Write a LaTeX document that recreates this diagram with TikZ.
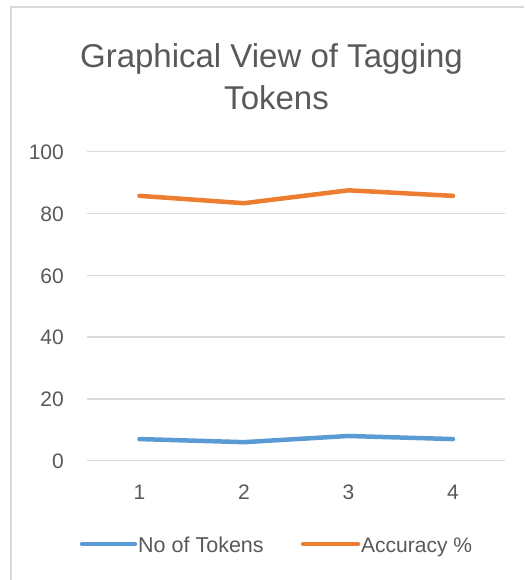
\documentclass[tikz,border=0pt]{standalone}
\usepackage{fontspec}
\setmainfont{Liberation Sans}
\usetikzlibrary{positioning}
\definecolor{tokblue}{HTML}{5B9BD5}
\definecolor{accorange}{HTML}{ED7D31}
\definecolor{gridgray}{HTML}{D9D9D9}
\definecolor{textgray}{HTML}{595959}
\tikzset{font=\fontsize{21}{25}\selectfont}
\tikzset{every node/.append style={text=textgray, inner sep=0pt}}
\tikzset{serie/.style={line width=4.5pt, line cap=round, line join=round}}
\tikzset{gridline/.style={gridgray, line width=1.5pt}}
\tikzset{legtext/.style={anchor=base west, font=\fontsize{21.5}{26}\selectfont}}

\begin{document}
\begin{tikzpicture}[x=1pt, y=-1pt]
\pgfmathsetmacro{\YZERO}{460.7}
\pgfmathsetmacro{\YUNIT}{3.09}
\pgfmathsetmacro{\XSTEP}{104.5}
\useasboundingbox (0,0) rectangle (524,580);
\draw[gridgray, line width=2pt] (11,580)--(11,7)--(524,7);
% title
\node[font=\fontsize{33}{40}\selectfont, anchor=base] (title) at (271.5,68) {Graphical View of Tagging};
\node[font=\fontsize{33}{40}\selectfont, anchor=base] (title2) at (276.5,110) {Tokens};
% value axis
\foreach \v in {0,20,...,100} {
 \draw[gridline] (87,\YZERO-\v*\YUNIT)--(505,\YZERO-\v*\YUNIT);
 \node[anchor=base east] (ylab\v) at (64,\YZERO-\v*\YUNIT+7.7) {\v};
}
% data
\foreach \tok/\acc [count=\i] in {7/85.714,6/83.333,8/87.5,7/85.714} {
 \coordinate (tok\i) at (35+\i*\XSTEP,\YZERO-\tok*\YUNIT);
 \coordinate (acc\i) at (35+\i*\XSTEP,\YZERO-\acc*\YUNIT);
 \node[anchor=base] (xlab\i) at (35+\i*\XSTEP,499) {\i};
}
\draw[serie, tokblue] (tok1)--(tok2)--(tok3)--(tok4);
\draw[serie, accorange] (acc1)--(acc2)--(acc3)--(acc4);
% legend
\coordinate (legtokA) at (82,544);
\coordinate (legtokB) at (135,544);
\coordinate (legaccA) at (303,544);
\coordinate (legaccB) at (358,544);
\draw[serie, tokblue] (legtokA)--(legtokB);
\draw[serie, accorange] (legaccA)--(legaccB);
\node[legtext] (legtok) at (138,552) {No of Tokens};
\node[legtext, font=\fontsize{21}{26}\selectfont] (legacc) at (361,552) {Accuracy \%};
\end{tikzpicture}
\end{document}
